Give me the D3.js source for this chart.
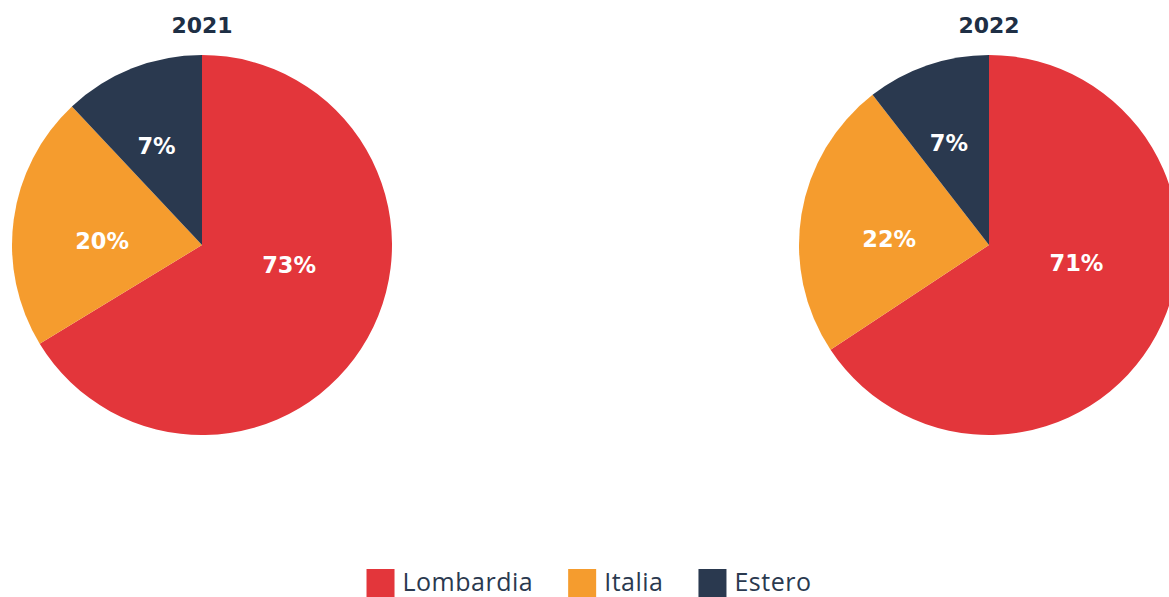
<!DOCTYPE html>
<html>
<head>
<meta charset="utf-8">
<script src="https://cdn.jsdelivr.net/npm/d3@7"></script>
<style>
  html, body { margin: 0; padding: 0; background: #ffffff; overflow: hidden; }
  svg { display: block; }
</style>
</head>
<body>
<svg id="chart" width="1169" height="597"></svg>
<script>
// ---- data ----
const categories = ["Lombardia", "Italia", "Estero"];
const years = ["2021", "2022"];
const values2021 = [66.3, 21.7, 12.0];   // slice sizes as drawn
const values2022 = [65.7, 23.8, 10.5];
const labels2021 = ["73%", "20%", "7%"];  // printed labels
const labels2022 = ["71%", "22%", "7%"];
const colors = ["#e3363b", "#f59c2e", "#2a394f"];

const W = 1169, H = 597;
const svg = d3.select("#chart");

const R = 190;
const centerX = d3.scalePoint().domain(years).range([202, 989]);
const cy = 245;

const color = d3.scaleOrdinal().domain(categories).range(colors);
const pie = d3.pie().sort(null).value(d => d.value);
const arc = d3.arc().innerRadius(0).outerRadius(R);

const series = [
  { year: "2021", values: values2021, labels: labels2021 },
  { year: "2022", values: values2022, labels: labels2022 }
];

series.forEach(s => {
  const rows = categories.map((c, i) => ({ cat: c, value: s.values[i], label: s.labels[i] }));
  const g = svg.append("g").attr("transform", `translate(${centerX(s.year)},${cy})`);
  const arcs = pie(rows);
  g.selectAll("path.slice").data(arcs).join("path")
    .attr("class", "slice")
    .attr("d", arc)
    .attr("fill", d => color(d.data.cat));

  // labels: placed inside each slice, a little before its mid-angle
  const labelR = d => {
    const span = d.endAngle - d.startAngle;
    if (span > Math.PI) return 0.47 * R;
    if (span > 1.0) return 0.526 * R;
    return 0.575 * R;
  };
  g.selectAll("text.lbl").data(arcs).join("text")
    .attr("class", "lbl")
    .attr("transform", d => {
      const a = d.startAngle + 0.43 * (d.endAngle - d.startAngle);
      const r = labelR(d);
      return `translate(${r * Math.sin(a)},${-r * Math.cos(a)})`;
    })
    .attr("text-anchor", "middle")
    .attr("dy", "0.36em")
    .attr("fill", "#ffffff")
    .style("font-family", "'DejaVu Sans', sans-serif")
    .style("font-weight", "bold")
    .style("font-size", "22.5px")
    .text(d => d.data.label);

  svg.append("text")
    .attr("x", centerX(s.year))
    .attr("y", 33)
    .attr("text-anchor", "middle")
    .attr("fill", "#1e2f45")
    .style("font-family", "'DejaVu Sans', sans-serif")
    .style("font-weight", "bold")
    .style("font-size", "22px")
    .text(s.year);
});

// ---- legend ----
const legend = svg.append("g");
let x = 0;
const sq = 28, gapText = 8, gapItem = 35;
categories.forEach((c, i) => {
  const it = legend.append("g").attr("transform", `translate(${x},0)`);
  it.append("rect").attr("x", 0).attr("y", 0).attr("width", sq).attr("height", sq).attr("fill", color(c));
  const t = it.append("text")
    .attr("x", sq + gapText)
    .attr("y", 22)
    .attr("fill", "#2a394f")
    .style("font-family", "'Open Sans', sans-serif")
    .style("font-weight", "400")
    .style("font-size", "25px")
    .style("letter-spacing", "0.5px")
    .text(c);
  const w = t.node().getComputedTextLength();
  x += sq + gapText + w + gapItem;
});
const totalW = x - gapItem;
legend.attr("transform", `translate(${589 - totalW / 2},569)`);
</script>
</body>
</html>
